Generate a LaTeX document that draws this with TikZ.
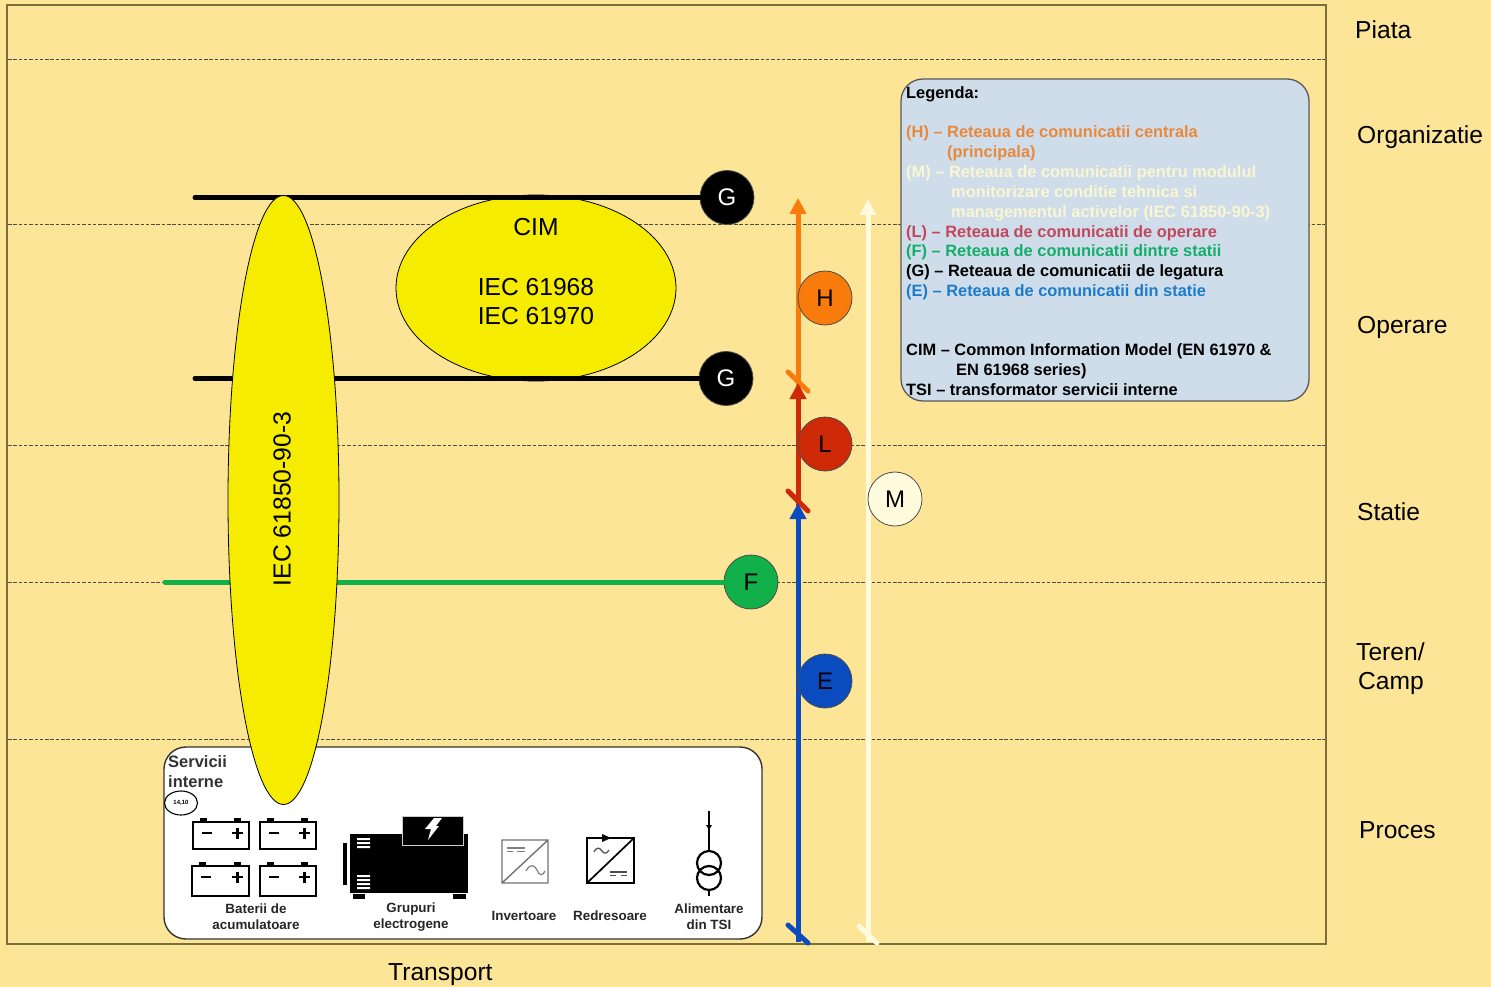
\documentclass[tikz,border=0pt]{standalone}
\usepackage{fontspec}
\setmainfont{Liberation Sans}
\usetikzlibrary{arrows.meta,shapes.geometric}
\definecolor{bgc}{HTML}{FDE598}
\definecolor{framec}{HTML}{7C6E3A}
\definecolor{legc}{HTML}{CFDDEA}
\definecolor{yel}{HTML}{F6EC00}
\definecolor{orng}{HTML}{F97B0C}
\definecolor{redc}{HTML}{CF2A08}
\definecolor{bluec}{HTML}{0A4CC0}
\definecolor{greenc}{HTML}{12B04A}
\definecolor{creamc}{HTML}{FFFBDC}
\definecolor{torng}{HTML}{E8883C}
\definecolor{tcream}{HTML}{FBF6D2}
\definecolor{tred}{HTML}{C2475C}
\definecolor{tgreen}{HTML}{14AE68}
\definecolor{tblue}{HTML}{1C7CCB}
\newcommand{\fs}[1]{\fontsize{#1}{#1}\selectfont}
\tikzset{
  x=1pt,y=-1pt,
  lane/.style={dash pattern=on 3.5pt off 1.8pt,line width=0.9pt,draw=black!70},
  zone/.style={anchor=base west,inner sep=0,font=\fs{24.6}},
  leg/.style={anchor=base west,inner sep=0,font=\fs{16.4}\bfseries},
  small/.style={align=center,inner sep=0,font=\fs{13.4}\bfseries,text=black!85},
  disc/.style={circle,minimum size=54pt,inner sep=0,draw=black!70,line width=0.8pt,font=\fs{24}},
  netline/.style={line width=5pt},
  arrowline/.style={line width=5pt,-{Triangle[width=16pt,length=16pt]}},
  tick/.style={line width=5pt,line cap=round},
  battery/.style={line width=2.4pt,draw=black,fill=white},
  conv/.style={line width=1.4pt},
}
\newcommand{\batt}[4]{%
  \fill[black] (#1+7,#2-4) rectangle (#1+14,#2+1);
  \fill[black] (#1+#3-15,#2-4) rectangle (#1+#3-8,#2+1);
  \draw[battery] (#1,#2) rectangle (#1+#3,#2+#4);
  \draw[line width=2.4pt] (#1+9,#2+11) -- (#1+19,#2+11);
  \draw[line width=2.4pt] (#1+#3-17,#2+11) -- (#1+#3-6,#2+11) (#1+#3-11.5,#2+5.5) -- (#1+#3-11.5,#2+16.5);
}
\begin{document}
\begin{tikzpicture}
\useasboundingbox (0,0) rectangle (1491,987);
\fill[bgc] (0,0) rectangle (1491,987);
\draw[framec,line width=1.3pt] (7,5) rectangle (1326,944);
\foreach \yy in {59,224,445,582,739}
  \draw[lane] (8,\yy) -- (1325,\yy);

% zone labels
\node[zone] (zpiata) at (1355,39) {Piata};
\node[zone] (zorg) at (1357,144) {Organizatie};
\node[zone] (zop) at (1357,333) {Operare};
\node[zone] (zst) at (1357,520) {Statie};
\node[zone] (zte) at (1356,660) {Teren/};
\node[zone] (zca) at (1358,689) {Camp};
\node[zone] (zpr) at (1359,838) {Proces};
\node[zone] (ztr) at (388,980) {Transport};

% internal services box
\draw[fill=white,draw=black!80,line width=1.4pt,rounded corners=22pt] (164,747) rectangle (762,939);
\node[anchor=base west,inner sep=0,font=\fs{16.5}\bfseries,text=black!80] (si1) at (168,767) {Servicii};
\node[anchor=base west,inner sep=0,font=\fs{16.5}\bfseries,text=black!80] (si2) at (168,787) {interne};
\node[ellipse,draw=black,line width=1.1pt,minimum width=33pt,minimum height=24pt,inner sep=0,font=\fs{6}\bfseries] (si3) at (181,803) {14,10};

% lines behind ellipses
\coordinate (gs1) at (195,197.5);
\coordinate (gs2) at (195,378.5);
\coordinate (fs) at (165,582);
\node[disc,fill=black,text=white] (g1) at (727,197.5) {G};
\node[disc,fill=black,text=white] (g2) at (726,378.5) {G};
\node[disc,fill=greenc,text=black] (f) at (751,582) {F};
\draw[netline,line cap=round,greenc] (fs) -- (f);

% CIM ellipse
\node[ellipse,fill=yel,draw=black,line width=0.8pt,minimum width=280pt,minimum height=186pt,inner sep=0] (cim) at (536,288) {};
\node[inner sep=0,font=\fs{24.6}] (cimt) at (536,227) {CIM};
\node[inner sep=0,font=\fs{24.6}] (cim1) at (536,287) {IEC 61968};
\node[inner sep=0,font=\fs{24.6}] (cim2) at (536,316) {IEC 61970};
\draw[netline,line cap=round,black] (gs1) -- (g1);
\draw[netline,line cap=round,black] (gs2) -- (g2);

% vertical ellipse
\node[ellipse,fill=yel,draw=black,line width=0.8pt,minimum width=111pt,minimum height=609pt,inner sep=0] (iec) at (283.5,500) {};
\node[rotate=90,inner sep=0,font=\fs{24.7}] (iect) at (282,499) {IEC 61850-90-3};

% batteries
\batt{193}{822}{56}{27}
\batt{260}{822}{56}{27}
\batt{192}{866}{57}{30}
\batt{260}{866}{56}{30}
\node[small] (bat) at (256,917) {Baterii de\\[3pt]acumulatoare};

% generator
\fill[black] (343,843) rectangle (347,885);
\fill[black] (350,834) rectangle (468,893);
\fill[black] (353,894) rectangle (365,899);
\fill[black] (453,894) rectangle (466,899);
\draw[fill=black,draw=black!20,line width=1pt] (402,816) rectangle (463,845);
\fill[white] (357,838) rectangle (370,840) (357,842) rectangle (370,844) (357,846) rectangle (370,848);
\fill[white] (357,875) rectangle (370,877) (357,879) rectangle (370,881) (357,883) rectangle (370,885) (357,887) rectangle (370,889);
\fill[white] (434,818) -- (442,818) -- (436,826) -- (439,826) -- (428,840) -- (431,829) -- (425,829) -- cycle;
\node[small] (gen) at (411,917) {Grupuri\\[3pt]electrogene};

% inverter
\draw[conv,draw=black!55] (502,840) rectangle (548,883) (502,883) -- (548,840);
\draw[black!50,line width=1.2pt] (507,848) -- (525,848) (507,851.5) -- (513,851.5) (517,851.5) -- (525,851.5);
\draw[black!50,line width=1.2pt] (526,871) .. controls (531,862) and (535,866) .. (537,870) .. controls (539,876) and (543,876) .. (545,871);
\node[small] (inv) at (524,916) {Invertoare};

% rectifier
\draw[conv,black,line width=1.7pt] (587,838) rectangle (634,883) (587,883) -- (634,838);
\fill[black] (602,834) -- (611,838) -- (602,842) -- cycle;
\draw[black!70,line width=1.2pt] (594,852) .. controls (597,846) and (600,848) .. (602,851) .. controls (604,854) and (607,854) .. (609,850);
\draw[black!70,line width=1.2pt] (610,872) -- (627,872) (610,875.5) -- (616,875.5) (621,875.5) -- (627,875.5);
\node[small] (red) at (610,916) {Redresoare};

% transformer
\draw[line width=2pt] (709,811) -- (709,852) (709,890) -- (709,896);
\fill[black] (706,825) -- (712,825) -- (709,830) -- cycle;
\draw[line width=2.2pt] (709,863) circle[radius=12] (709,878) circle[radius=12];
\node[small] (ali) at (709,917) {Alimentare\\[3pt]din TSI};

% network arrows
\coordinate (bs) at (798,942);
\coordinate (be) at (798,503);
\coordinate (rs) at (798,506);
\coordinate (re) at (798,383);
\coordinate (os) at (798,388);
\coordinate (oe) at (798,198);
\coordinate (cs) at (868,942);
\coordinate (ce) at (868,199);
\draw[arrowline,creamc] (cs) -- (ce);
\draw[tick,creamc] (859,926) -- (877,943);
\draw[arrowline,orng] (os) -- (oe);
\draw[tick,orng] (788,372) -- (808,391);
\draw[arrowline,redc] (rs) -- (re);
\draw[tick,redc] (788,491) -- (808,511);
\draw[arrowline,bluec] (bs) -- (be);
\draw[tick,bluec] (788,925) -- (808,943);

\node[disc,fill=orng] (h) at (825,298) {H};
\node[disc,fill=redc] (l) at (825,444) {L};
\node[disc,fill=bluec] (e) at (825,681) {E};
\node[disc,fill=creamc] (m) at (895,499) {M};

% legend
\draw[fill=legc,draw=black!65,line width=1.3pt,rounded corners=22pt] (901,79) rectangle (1309,401);
\node[leg] (l0) at (906,99) {Legenda:};
\node[leg,text=torng] (l1) at (906,138) {(H) – Reteaua de comunicatii centrala};
\node[leg,text=torng] (l2) at (947,158) {(principala)};
\node[leg,text=tcream] (l3) at (906,178) {(M) – Reteaua de comunicatii pentru modulul};
\node[leg,text=tcream] (l4) at (951,198) {monitorizare conditie tehnica si};
\node[leg,text=tcream] (l5) at (951,218) {managementul activelor (IEC 61850-90-3)};
\node[leg,text=tred] (l6) at (906,237) {(L) – Reteaua de comunicatii de operare};
\node[leg,text=tgreen] (l7) at (906,256) {(F) – Reteaua de comunicatii dintre statii};
\node[leg] (l8) at (906,276) {(G) – Reteaua de comunicatii de legatura};
\node[leg,text=tblue] (l9) at (906,296) {(E) – Reteaua de comunicatii din statie};
\node[leg] (l10) at (906,355) {CIM – Common Information Model (EN 61970 \&};
\node[leg] (l11) at (956,375) {EN 61968 series)};
\node[leg] (l12) at (906,395) {TSI – transformator servicii interne};
\end{tikzpicture}
\end{document}
